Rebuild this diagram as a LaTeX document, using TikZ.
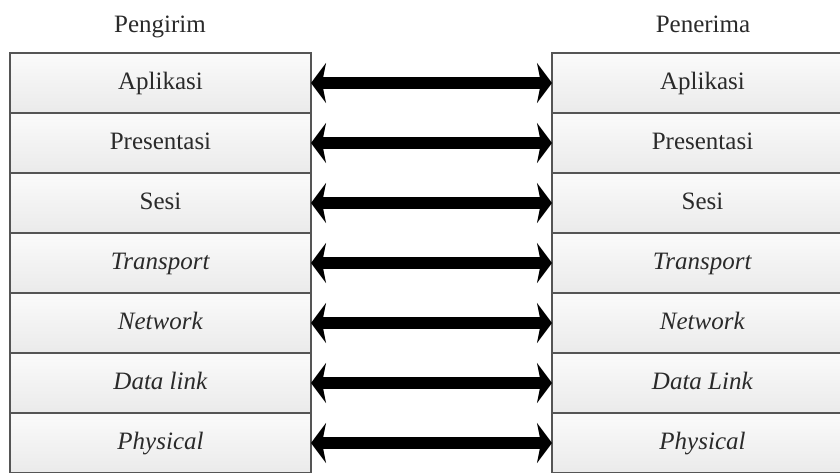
\documentclass[tikz,border=0pt]{standalone}
\usepackage{fontspec}
\setmainfont{Liberation Serif}
\usetikzlibrary{arrows.meta}
\definecolor{boxline}{HTML}{555555}
\definecolor{boxtop}{HTML}{FBFBFB}
\definecolor{boxbot}{HTML}{EAEAEA}
\definecolor{txt}{HTML}{2A2A2A}
\begin{document}
\begin{tikzpicture}[x=1pt,y=-1pt,
  layer/.style={draw=boxline, line width=1.4pt, top color=boxtop, bottom color=boxbot,
    minimum width=301pt, minimum height=60pt, inner sep=0pt, outer sep=0pt,
    text height=17pt, text depth=5pt,
    font=\fontsize{25}{30}\selectfont, text=txt, anchor=north west},
  title/.style={font=\fontsize{25}{30}\selectfont, text=txt, anchor=base},
  link/.style={line width=12pt,
    {Stealth[length=15pt,width=40pt,inset=4pt]}-{Stealth[length=15pt,width=40pt,inset=4pt]}}
]
\useasboundingbox (0,0) rectangle (840,472);
\clip (0,0) rectangle (840,472);
\node[title] (tl) at (160,32) {Pengirim};
\node[title] (tr) at (703,32) {Penerima};
\foreach \i/\l/\r in {0/Aplikasi/Aplikasi, 1/Presentasi/Presentasi, 2/Sesi/Sesi,
  3/\textit{Transport}/\textit{Transport}, 4/\textit{Network}/\textit{Network},
  5/\textit{Data link}/\textit{Data Link}, 6/\textit{Physical}/\textit{Physical}}{
  \node[layer] (L\i) at (10,{53+60*\i}) {\l};
  \node[layer] (R\i) at (552,{53+60*\i}) {\r};
  \draw[link] (L\i.east) -- (R\i.west);
}
\end{tikzpicture}
\end{document}
